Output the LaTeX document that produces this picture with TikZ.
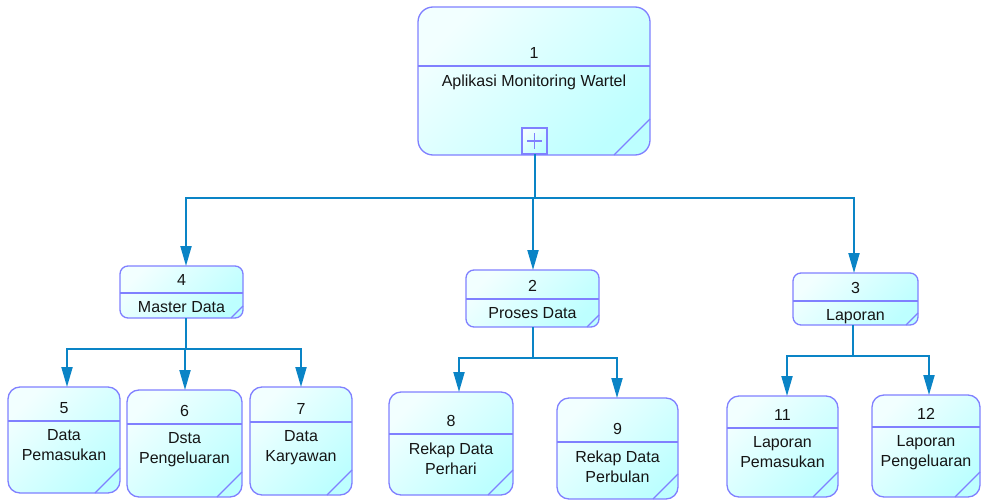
\documentclass[tikz,border=0pt]{standalone}
\usepackage{fontspec}
\setmainfont{Liberation Sans}
\usetikzlibrary{arrows.meta}
\definecolor{bordc}{HTML}{8080FF}
\definecolor{connc}{HTML}{0A84C6}
\definecolor{filltl}{HTML}{F2FFFF}
\definecolor{fillbr}{HTML}{BDFFFF}
\definecolor{txtc}{HTML}{151515}
\tikzset{
 procbox/.style={draw=bordc, line width=1.3pt, outer sep=0pt, inner sep=0pt,
   top color=filltl, bottom color=fillbr, shading angle=45},
 bord/.style={draw=bordc, line width=1.3pt},
 numtxt/.style={font=\fontsize{16}{20}\selectfont, text=txtc, inner sep=0pt},
 labtxt/.style={numtxt, align=center, anchor=north},
 conn/.style={draw=connc, line width=2pt, -{Triangle[length=20pt,width=11pt]}},
}
\newcommand\setproc[2]{\def\foldsz{#1}\def\radsz{#2}}
% #1 name, #2 x1, #3 y1, #4 x2, #5 y2, #6 divider y, #7 unused, #8 number, #9 label
\newcommand\procnode[9]{%
  \node[procbox, rounded corners=\radsz pt, minimum width={#4-#2}, minimum height={#5-#3}]
     (#1) at ({(#2+#4)/2},{(#3+#5)/2}) {};
  \draw[bord] (#1.west |- 0,#6) -- (#1.east |- 0,#6);
  \draw[bord] (#1.south east) ++(-\foldsz,0) -- ++(\foldsz,-\foldsz);
  \node[numtxt] (#1num) at ({(#2+#4)/2},{#6-13}) {#8};
  \node[labtxt] (#1lab) at ({(#2+#4)/2},{#6+8.5}) {#9};
}
\begin{document}
\begin{tikzpicture}[x=1pt,y=-1pt]
\fill[white] (0,0) rectangle (982,500);
\useasboundingbox (0,0) rectangle (982,500);

\setproc{36}{15}
\procnode{n1}{418}{7}{650}{155}{66}{}{1}{Aplikasi Monitoring Wartel}
\node[procbox, minimum width=25, minimum height=26] (plus) at (534.5,141) {};
\draw[bord, line width=1pt] (plus.center) ++(-7.5,0) -- ++(15,0);
\draw[bord, line width=1pt] (plus.center) ++(0,-7.5) -- ++(0,15);

\setproc{12}{8}
\procnode{n4}{120}{266}{243}{318}{293}{}{4}{Master Data}
\procnode{n2}{466}{270}{599}{327}{299}{}{2}{Proses Data}
\procnode{n3}{793}{273}{918}{325}{301}{}{3}{Laporan}

\setproc{25}{12}
\procnode{n5}{8}{387}{120}{493}{421}{}{5}{Data\\Pemasukan}
\procnode{n6}{127}{390}{242}{497}{424}{}{6}{Dsta\\Pengeluaran}
\procnode{n7}{250}{387}{352}{495}{422}{}{7}{Data\\Karyawan}
\procnode{n8}{389}{392}{513}{495}{434}{}{8}{Rekap Data\\Perhari}
\procnode{n9}{557}{398}{678}{499}{442}{}{9}{Rekap Data\\Perbulan}
\procnode{n11}{727}{396}{838}{497}{428}{}{11}{Laporan\\Pemasukan}
\procnode{n12}{872}{395}{980}{497}{427}{}{12}{Laporan\\Pengeluaran}

% connectors
\draw[conn] ([xshift=0.5pt]plus.south) -- ++(0,44) -| ([xshift=4.5pt]n4.north);
\draw[conn] ([xshift=0.5pt]plus.south) -- ++(0,44) -| ([xshift=0.5pt]n2.north);
\draw[conn] ([xshift=0.5pt]plus.south) -- ++(0,44) -| ([xshift=-1.5pt]n3.north);

\draw[conn] ([xshift=4.5pt]n4.south) -- ++(0,31) -| ([xshift=3pt]n5.north);
\draw[conn] ([xshift=4.5pt]n4.south) -- ++(0,31) -| ([xshift=0.5pt]n6.north);
\draw[conn] ([xshift=4.5pt]n4.south) -- ++(0,31) -| (n7.north);

\draw[conn] ([xshift=0.5pt]n2.south) -- ++(0,31) -| ([xshift=8pt]n8.north);
\draw[conn] ([xshift=0.5pt]n2.south) -- ++(0,31) -| ([xshift=-0.5pt]n9.north);

\draw[conn] ([xshift=-2.5pt]n3.south) -- ++(0,31) -| ([xshift=4.5pt]n11.north);
\draw[conn] ([xshift=-2.5pt]n3.south) -- ++(0,31) -| ([xshift=3pt]n12.north);
\end{tikzpicture}
\end{document}
